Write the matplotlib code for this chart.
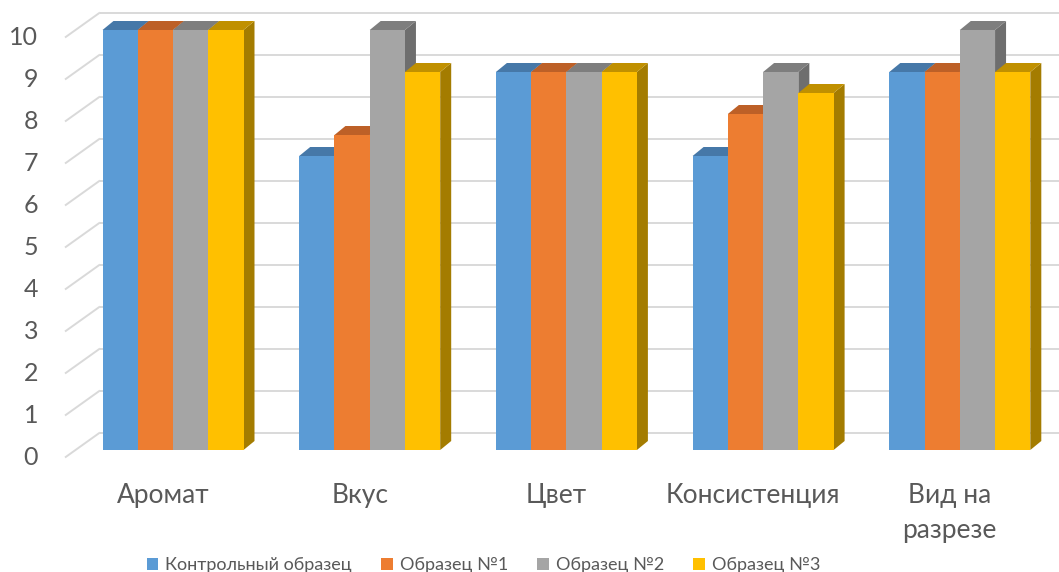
import matplotlib
matplotlib.use("Agg")
import matplotlib.pyplot as plt
from matplotlib.patches import Patch
from matplotlib.collections import PolyCollection

categories = ["Аромат", "Вкус", "Цвет", "Консистенция", "Вид на\nразрезе"]
series_names = ["Контрольный образец", "Образец №1", "Образец №2", "Образец №3"]
control = [10, 7, 9, 7, 9]
sample1 = [10, 7.5, 9, 8, 9]
sample2 = [10, 10, 9, 9, 10]
sample3 = [10, 9, 9, 8.5, 9]
y_ticks = list(range(0, 11))

series_values = [control, sample1, sample2, sample3]
front_colors = ["#5B9BD5", "#ED7D31", "#A5A5A5", "#FFC000"]
top_colors = ["#4678A8", "#BD6027", "#7E7E7E", "#C09000"]
side_colors = ["#3D6A96", "#A5531E", "#6E6E6E", "#A47C00"]
text_color = "#595959"
grid_color = "#D9D9D9"

plt.rcParams["font.family"] = ["Lato", "Open Sans", "DejaVu Sans"]

W, H = 1059, 572
fig = plt.figure(figsize=(W / 100, H / 100), dpi=100)
ax = fig.add_axes([0, 0, 1, 1])

# scale: pixels per category step and per score unit
PX_X = 196.7
PX_Y = 42.0
X0, Y0 = 173.0, 450.0          # pixel position of first group centre / zero level
ax.set_xlim(-X0 / PX_X, (W - X0) / PX_X)
ax.set_ylim(-(H - Y0) / PX_Y, Y0 / PX_Y)
ax.axis("off")


def px(dx, dy):
    """pixel offset -> data offset (dy positive = upwards)"""
    return dx / PX_X, dy / PX_Y


# pseudo-3D depths
bdx, bdy = px(11, 9)        # depth of each column
wdx, wdy = px(25, 17.5)     # back wall behind the columns
fdx, fdy = px(-10, -7.5)    # front edge of the floor / side wall
x_wall = (75 - X0) / PX_X   # side wall position in the column plane
x_right = ax.get_xlim()[1]

# gridlines: diagonal on the side wall, horizontal on the back wall
for v in y_ticks:
    ax.plot([x_wall + fdx, x_wall + wdx], [v + fdy, v + wdy],
            color=grid_color, lw=1.4, zorder=1, solid_capstyle="butt")
    ax.plot([x_wall + wdx, x_right], [v + wdy, v + wdy],
            color=grid_color, lw=1.4, zorder=1, solid_capstyle="butt")
    ax.text((38 - X0) / PX_X, v + fdy, str(v), ha="right", va="center",
            fontsize=18, color=text_color)

# columns
n = len(series_values)
bw = 35.25 / PX_X
xs = list(range(len(categories)))
for j, (vals, fc, tc, sc) in enumerate(zip(series_values, front_colors,
                                           top_colors, side_colors)):
    off = (j - (n - 1) / 2) * bw
    pos = [x + off for x in xs]
    z = 10 + 3 * j
    ax.bar(pos, vals, width=bw, color=fc, zorder=z + 1, linewidth=0)
    tops, sides = [], []
    for p, v in zip(pos, vals):
        l, r = p - bw / 2, p + bw / 2
        tops.append([(l, v), (r, v), (r + bdx, v + bdy), (l + bdx, v + bdy)])
        sides.append([(r, 0), (r, v), (r + bdx, v + bdy), (r + bdx, bdy)])
    ax.add_collection(PolyCollection(sides, facecolors=sc, edgecolors="none",
                                     zorder=z))
    ax.add_collection(PolyCollection(tops, facecolors=tc, edgecolors="none",
                                     zorder=z))

# category labels on the front edge
for x, cat in zip(xs, categories):
    ax.text(x + fdx, (Y0 - 483) / PX_Y, cat, ha="center", va="top",
            fontsize=19, color=text_color, linespacing=1.5)

handles = [Patch(facecolor=c, edgecolor="none") for c in front_colors]
fig.legend(handles, series_names, loc="center", ncol=4, frameon=False,
           bbox_to_anchor=(483.5 / W, 1 - 565 / H), fontsize=13,
           labelcolor=text_color, handlelength=0.65, handleheight=0.65,
           handletextpad=0.4, columnspacing=1.6)

fig.savefig("out.png", dpi=100)
